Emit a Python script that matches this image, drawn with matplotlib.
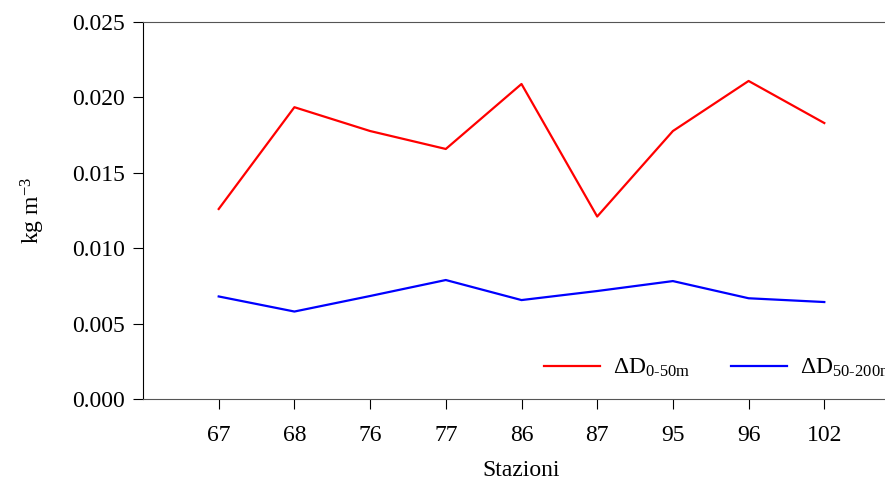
import matplotlib
matplotlib.use("Agg")
import matplotlib.pyplot as plt

plt.rcParams['font.family'] = ['Liberation Serif', 'DejaVu Serif']
plt.rcParams['mathtext.fontset'] = 'custom'
plt.rcParams['mathtext.rm'] = 'Liberation Serif'
plt.rcParams['mathtext.it'] = 'Liberation Serif:italic'

# stations and density differences (kg m-3)
stations = ['67', '68', '76', '77', '86', '87', '95', '96', '102']
d_0_50 = [0.0126, 0.01935, 0.01777, 0.01658, 0.02089, 0.01210, 0.01777, 0.02109, 0.0183]
d_50_200 = [0.00680, 0.00580, 0.00683, 0.00789, 0.00656, 0.00716, 0.00782, 0.00668, 0.00643]

x = list(range(1, len(stations) + 1))

fig = plt.figure(figsize=(8.85, 4.84), dpi=100)
ax = fig.add_axes([143 / 885, 85 / 484, 757 / 885, 377 / 484])

ax.plot(x, d_0_50, color='red', lw=1.6, label=r'$\Delta$D$_{\mathrm{0\text{-}50m}}$')
ax.plot(x, d_50_200, color='blue', lw=1.6, label=r'$\Delta$D$_{\mathrm{50\text{-}200m}}$')

ax.set_xlim(0, 10)
ax.set_ylim(0, 0.025)
ax.set_xticks(x)
ax.set_xticklabels(stations)
ax.set_yticks([0, 0.005, 0.010, 0.015, 0.020, 0.025])
ax.set_yticklabels(['0.000', '0.005', '0.010', '0.015', '0.020', '0.025'])
ax.tick_params(direction='out', length=7, labelsize=17, pad=6)
ax.tick_params(axis='x', pad=12)

for s in ['top', 'bottom']:
    ax.spines[s].set_color('#555555')
ax.spines['left'].set_color('black')
ax.spines['right'].set_visible(False)

ax.set_xlabel('Stazioni', fontsize=17, labelpad=10)
ax.set_ylabel(r'kg m$^{-3}$', fontsize=17, labelpad=18)

ax.legend(loc='center left', bbox_to_anchor=(0.53, 0.082), ncol=2, frameon=False,
          fontsize=17, handlelength=2.35, handletextpad=0.55, columnspacing=1.75,
          borderaxespad=0, borderpad=0)

fig.savefig('out.png', dpi=100)
